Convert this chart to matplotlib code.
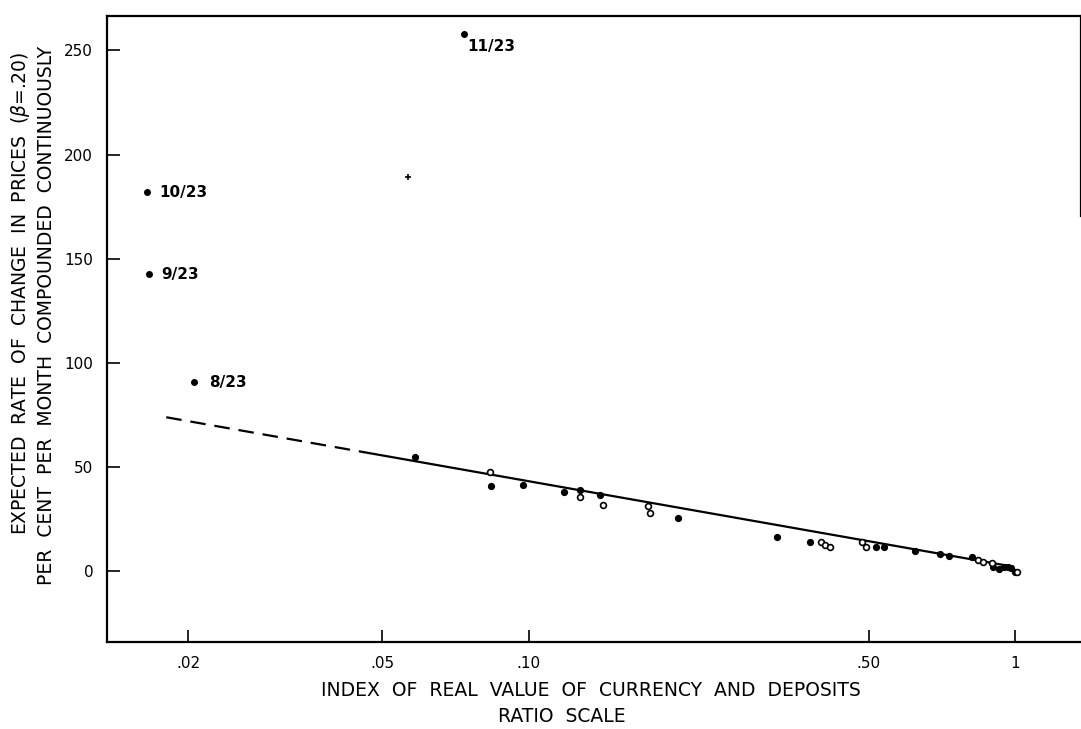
import matplotlib
matplotlib.use("Agg")
import matplotlib.pyplot as plt

# ---- data ----
filled_x = [0.0583, 0.0839, 0.0975, 0.1182, 0.1279, 0.1406, 0.2028, 0.3237, 0.3792,
            0.5176, 0.5383, 0.6234, 0.7008, 0.7325, 0.8158, 0.9022, 0.9284, 0.9506,
            0.966, 0.981, 1.001]
filled_y = [54.9, 40.8, 41.6, 38.1, 38.9, 36.8, 25.3, 16.5, 14.1,
            11.4, 11.7, 9.6, 8.2, 7.3, 6.9, 1.8, 1.0, 1.8,
            2.1, 1.3, -0.3]
open_x = [0.0832, 0.1279, 0.1422, 0.176, 0.1777, 0.3989, 0.4064, 0.4162, 0.4843,
          0.4952, 0.8382, 0.8606, 0.8968, 1.008]
open_y = [47.7, 35.7, 32.0, 31.2, 27.7, 14.1, 12.8, 11.4, 14.1,
          11.4, 5.3, 4.5, 3.7, -0.6]
labeled_x = [0.0738, 0.0164, 0.0166, 0.0205]
labeled_y = [258, 182, 142.6, 90.8]
labeled_text = ["11/23", "10/23", "9/23", "8/23"]
speck_x = [0.0566]
speck_y = [189]
dashed_x = [0.018, 0.046]
dashed_y = [73.9, 57.1]
solid_x = [0.046, 0.99]
solid_y = [57.1, 2.2]

xtick_vals = [0.02, 0.05, 0.10, 0.50, 1.0]
xtick_labels = [".02", ".05", ".10", ".50", "1"]
ytick_vals = [0, 50, 100, 150, 200, 250]

plt.rcParams['font.family'] = ['DejaVu Sans']

fig = plt.figure(figsize=(10.81, 7.29), dpi=100)
ax = fig.add_axes([0.099, 0.1193, 0.901, 0.8587])

ax.set_xscale('log')
ax.set_xlim(0.0136, 1.367)
ax.set_ylim(-34, 266.5)

ax.plot(dashed_x, dashed_y, color='black', lw=1.6, dashes=(7, 4))
ax.plot(solid_x, solid_y, color='black', lw=1.6)

ax.plot(filled_x, filled_y, 'o', ms=4.2, color='black', zorder=3)
ax.plot(open_x, open_y, 'o', ms=4.2, mfc='white', mec='black', mew=1.2, zorder=3)
ax.plot(labeled_x, labeled_y, 'o', ms=4.0, color='black', zorder=3)
ax.plot(speck_x, speck_y, '+', ms=4, mew=1.2, color='black', zorder=3)

offsets = [(2, -9), (9.5, 0), (8.5, 0), (11, 0)]
for x, y, t, off in zip(labeled_x, labeled_y, labeled_text, offsets):
    ax.annotate(t, (x, y), xytext=off, textcoords='offset points',
                fontsize=11, fontweight='bold', va='center', ha='left')

ax.set_xticks(xtick_vals)
ax.set_xticklabels(xtick_labels)
ax.xaxis.set_minor_locator(matplotlib.ticker.NullLocator())
ax.set_yticks(ytick_vals)
ax.tick_params(axis='both', direction='in', length=9, width=1.2, labelsize=11)
ax.tick_params(axis='y', pad=10)
ax.tick_params(axis='x', pad=10)

for s in ['left', 'bottom', 'top']:
    ax.spines[s].set_linewidth(1.6)
ax.spines['right'].set_visible(False)
# partial right border
ax.plot([1, 1], [0.68, 1.0], transform=ax.transAxes, color='black', lw=1.6, clip_on=False)

fs = 13.5
fig.text(0.019, 0.597, "EXPECTED  RATE  OF  CHANGE  IN  PRICES  ($\\beta$=.20)", rotation=90,
         ha='center', va='center', fontsize=fs)
fig.text(0.043, 0.567, "PER  CENT  PER  MONTH  COMPOUNDED  CONTINUOUSLY", rotation=90,
         ha='center', va='center', fontsize=fs)
fig.text(0.547, 0.0525, "INDEX  OF  REAL  VALUE  OF  CURRENCY  AND  DEPOSITS",
         ha='center', va='center', fontsize=fs)
fig.text(0.52, 0.0165, "RATIO  SCALE", ha='center', va='center', fontsize=fs)

fig.savefig("out.png", dpi=100)
